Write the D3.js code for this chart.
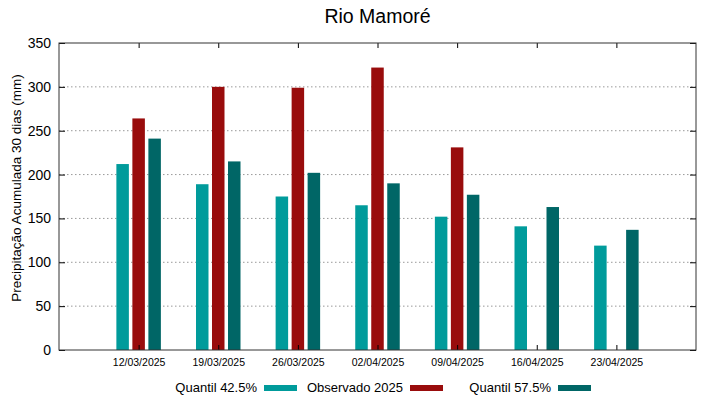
<!DOCTYPE html>
<html>
<head>
  <meta charset="utf-8">
  <title>Rio Mamoré</title>
  <style>
    body { margin: 0; background: #fff; }
    text { font-family: "Liberation Sans", Arial, sans-serif; fill: #000; }
    .grid line { stroke: #999; stroke-dasharray: 1.5,2.5; stroke-width: 1; }
  </style>
</head>
<body>
  <svg id="chart"></svg>
  <script src="https://d3js.org/d3.v7.min.js"></script>
  <script>
    // data
    const dates = ["12/03/2025", "19/03/2025", "26/03/2025", "02/04/2025", "09/04/2025", "16/04/2025", "23/04/2025"];
    const q425 = [212, 189, 175, 165, 152, 141, 119];
    const observed = [264, 300, 299, 322, 231, null, null];
    const q575 = [241, 215, 202, 190, 177, 163, 137];
    const yTicks = [0, 50, 100, 150, 200, 250, 300, 350];

    const seriesNames = ["Quantil 42.5%", "Observado 2025", "Quantil 57.5%"];
    const colors = ["#009b9b", "#990c0c", "#006666"];

    const width = 719, height = 399;
    const margin = { top: 43, right: 23, bottom: 49, left: 59 };
    const plotW = width - margin.left - margin.right;
    const plotH = height - margin.top - margin.bottom;

    const svg = d3.select("#chart")
      .attr("width", width)
      .attr("height", height);

    const g = svg.append("g")
      .attr("transform", `translate(${margin.left},${margin.top})`);

    const x = d3.scaleLinear().domain([0, dates.length + 1]).range([0, plotW]);
    const y = d3.scaleLinear().domain([0, 350]).range([plotH, 0]);

    // gridlines
    g.append("g").attr("class", "grid")
      .selectAll("line")
      .data(yTicks.filter(d => d > 0 && d < 350))
      .enter().append("line")
      .attr("x1", 0).attr("x2", plotW)
      .attr("y1", d => y(d)).attr("y2", d => y(d));

    // bars
    const series = [q425, observed, q575];
    const offsets = [-16, 0, 16];
    const barW = 12.5;
    series.forEach((vals, s) => {
      g.append("g").selectAll("rect")
        .data(vals.map((v, i) => ({ v, i })).filter(d => d.v != null))
        .enter().append("rect")
        .attr("x", d => x(d.i + 1) + offsets[s] - barW / 2)
        .attr("width", barW)
        .attr("y", d => y(d.v))
        .attr("height", d => plotH - y(d.v))
        .attr("fill", colors[s]);
    });

    // axes (inward ticks, gnuplot style)
    const tickIdx = d3.range(1, dates.length + 1);
    g.append("g")
      .attr("transform", `translate(0,${plotH})`)
      .call(d3.axisBottom(x).tickValues(tickIdx).tickSizeInner(-5).tickSizeOuter(0)
        .tickPadding(9).tickFormat(i => dates[i - 1]))
      .call(a => a.select(".domain").remove())
      .call(a => a.selectAll("text").style("font-size", "10.5px").attr("font-family", null));
    g.append("g")
      .call(d3.axisTop(x).tickValues(tickIdx).tickSizeInner(-5).tickSizeOuter(0).tickFormat(""))
      .call(a => a.select(".domain").remove());
    g.append("g")
      .call(d3.axisLeft(y).tickValues(yTicks).tickSizeInner(-6).tickSizeOuter(0).tickPadding(8))
      .call(a => a.select(".domain").remove())
      .call(a => a.selectAll("text").style("font-size", "14px").attr("font-family", null));
    g.append("g")
      .attr("transform", `translate(${plotW},0)`)
      .call(d3.axisRight(y).tickValues(yTicks).tickSizeInner(-6).tickSizeOuter(0).tickFormat(""))
      .call(a => a.select(".domain").remove());

    g.append("rect")
      .attr("width", plotW).attr("height", plotH)
      .attr("fill", "none").attr("stroke", "#333").attr("stroke-width", 1);

    // title
    svg.append("text")
      .attr("x", margin.left + plotW / 2).attr("y", 23)
      .attr("text-anchor", "middle")
      .style("font-size", "19.5px")
      .text("Rio Mamoré");

    // y label
    svg.append("text")
      .attr("transform", `translate(21,188) rotate(-90)`)
      .attr("text-anchor", "middle")
      .style("font-size", "13.5px")
      .text("Precipitação Acumulada 30 dias (mm)");

    // legend
    const legendX = [257, 403, 551];
    const legend = svg.append("g").selectAll("g")
      .data(seriesNames)
      .enter().append("g")
      .attr("transform", (d, i) => `translate(${legendX[i]},392)`);
    legend.append("text")
      .attr("text-anchor", "end")
      .style("font-size", "13px")
      .text(d => d);
    legend.append("rect")
      .attr("x", 7).attr("y", -7)
      .attr("width", 33).attr("height", 6)
      .attr("fill", (d, i) => colors[i]);
  </script>
</body>
</html>
